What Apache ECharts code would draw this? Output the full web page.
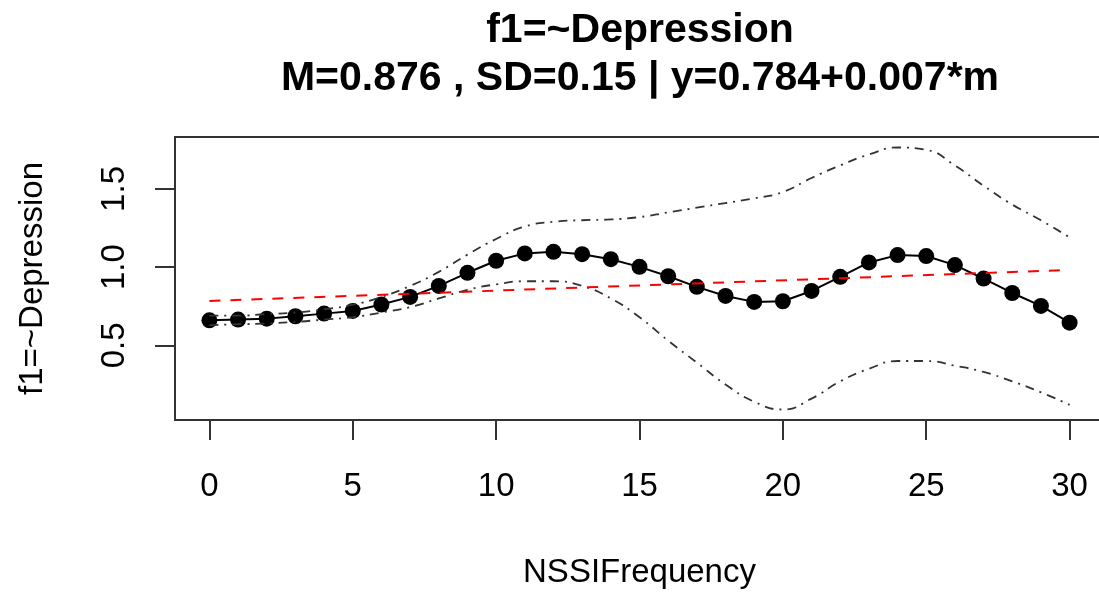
<!DOCTYPE html>
<html>
<head>
<meta charset="utf-8">
<script src="https://cdn.jsdelivr.net/npm/echarts@6/dist/echarts.min.js"></script>
<style>html,body{margin:0;padding:0;background:#fff}#c{width:1099px;height:592px}</style>
</head>
<body>
<div id="c"></div>
<script>
const titleLine1 = "f1=~Depression";
const titleLine2 = "M=0.876 , SD=0.15 | y=0.784+0.007*m";
const xName = "NSSIFrequency";
const yName = "f1=~Depression";
const xTicks = [0, 5, 10, 15, 20, 25, 30];
const yTicks = [0.5, 1.0, 1.5];
const m = [0,1,2,3,4,5,6,7,8,9,10,11,12,13,14,15,16,17,18,19,20,21,22,23,24,25,26,27,28,29,30];
const fitted = [0.660,0.665,0.671,0.686,0.703,0.720,0.761,0.810,0.880,0.964,1.041,1.088,1.098,1.083,1.051,1.002,0.942,0.874,0.816,0.778,0.782,0.848,0.938,1.030,1.077,1.071,1.013,0.927,0.835,0.752,0.645];
const upperCI = [0.69,0.69,0.70,0.71,0.73,0.76,0.81,0.88,0.97,1.08,1.18,1.26,1.29,1.30,1.305,1.32,1.35,1.38,1.41,1.44,1.48,1.57,1.65,1.72,1.765,1.75,1.65,1.52,1.40,1.30,1.19];
const lowerCI = [0.63,0.635,0.64,0.65,0.665,0.68,0.71,0.745,0.80,0.855,0.89,0.91,0.91,0.88,0.80,0.68,0.53,0.39,0.25,0.14,0.09,0.16,0.27,0.35,0.40,0.40,0.37,0.33,0.27,0.20,0.12];
const trendX = [0, 30];
const trendY = [0.784, 0.982];

const pairs = (xs, ys) => xs.map((x, i) => [x, ys[i]]);
const FONT = "'Liberation Sans', Arial, Helvetica, sans-serif";

const chart = echarts.init(document.getElementById('c'), null, {renderer: 'canvas'});
chart.setOption({
  animation: false,
  backgroundColor: '#fff',
  title: [
    {text: titleLine1, left: 640, top: 10, textAlign: 'center', padding: 0,
     textStyle: {fontFamily: FONT, fontSize: 41, fontWeight: 'bold', color: '#000'}},
    {text: titleLine2, left: 640, top: 58, textAlign: 'center', padding: 0,
     textStyle: {fontFamily: FONT, fontSize: 41, fontWeight: 'bold', color: '#000'}}
  ],
  grid: {left: 175, top: 137, width: 929, bottom: 172, outerBoundsMode: 'none', containLabel: false,
         show: true, borderColor: '#333', borderWidth: 2, backgroundColor: 'transparent'},
  xAxis: {
    type: 'value', min: -1.2, max: 31.2,
    name: xName, nameLocation: 'middle', nameGap: 136,
    nameTextStyle: {fontFamily: FONT, fontSize: 33, color: '#000'},
    axisLine: {show: false, onZero: false},
    axisTick: {show: true, length: 20, customValues: xTicks, lineStyle: {color: '#333', width: 2}},
    axisLabel: {customValues: xTicks, margin: 50, fontFamily: FONT, fontSize: 33, color: '#000'},
    splitLine: {show: false}
  },
  yAxis: {
    type: 'value', min: 0.023, max: 1.832,
    name: yName, nameLocation: 'middle', nameGap: 126, nameRotate: 90,
    nameTextStyle: {fontFamily: FONT, fontSize: 33, color: '#000'},
    axisLine: {show: false, onZero: false},
    axisTick: {show: true, length: 20, customValues: yTicks, lineStyle: {color: '#333', width: 2}},
    axisLabel: {customValues: yTicks, rotate: 90, margin: 44, fontFamily: FONT, fontSize: 33, color: '#000',
                formatter: v => v.toFixed(1)},
    splitLine: {show: false}
  },
  series: [
    {type: 'line', data: pairs(m, fitted), symbol: 'circle', symbolSize: 16, showSymbol: true,
     itemStyle: {color: '#000'}, lineStyle: {color: '#000', width: 2}, z: 2},
    {type: 'line', data: pairs(m, upperCI), symbol: 'none', smooth: true,
     lineStyle: {color: '#333', width: 1.8, type: [9, 6, 2, 6]}, z: 3},
    {type: 'line', data: pairs(m, lowerCI), symbol: 'none', smooth: true,
     lineStyle: {color: '#333', width: 1.8, type: [9, 6, 2, 6]}, z: 3},
    {type: 'line', data: pairs(trendX, trendY), symbol: 'none',
     lineStyle: {color: '#ff0000', width: 2, type: [11, 10]}, z: 4}
  ]
});
</script>
</body>
</html>
